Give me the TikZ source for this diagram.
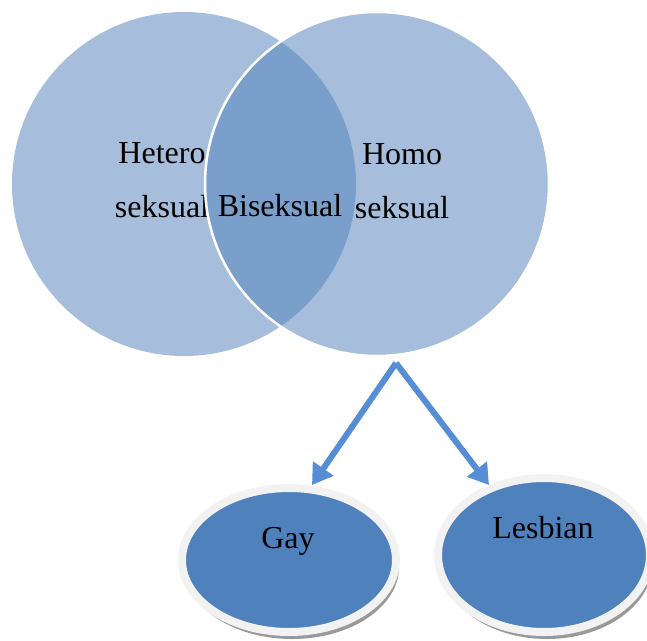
\documentclass[tikz,border=0pt]{standalone}
\usepackage{fontspec}
\setmainfont{Liberation Serif}
\usetikzlibrary{shapes.geometric,shadows,arrows.meta}
\definecolor{setlight}{HTML}{A6BDDB}
\definecolor{setdark}{HTML}{7B9FCB}
\definecolor{arrowblue}{HTML}{558ED5}
\definecolor{groupblue}{HTML}{4F81BD}
\definecolor{rimgray}{HTML}{F2F2F2}

\begin{document}
\begin{tikzpicture}[x=1pt, y=-1pt,
    setcircle/.style={circle, fill=setlight, minimum size=344pt, inner sep=0pt},
    txt/.style={font=\fontsize{32}{54}\selectfont, align=center, text=black, inner sep=0pt},
    group/.style={ellipse, fill=groupblue, draw=rimgray, line width=8pt, inner sep=0pt,
        drop shadow={shadow xshift=3pt, shadow yshift=-7pt, fill=black!40, opacity=1}},
    link/.style={draw=arrowblue, line width=6pt, -{Triangle[length=20pt, width=24pt]}}]
    \useasboundingbox (0,0) rectangle (647,640);

    % venn circles
    \node[setcircle] (hetero) at (184,184) {};
    \node[txt] (heterotext) at (162,180) {Hetero\\seksual};
    \node[setcircle] (homo) at (377,184) {};
    \begin{scope}
        \clip (hetero.center) circle (172pt);
        \fill[setdark] (homo.center) circle (172pt);
    \end{scope}
    \draw[white, line width=2.5pt] (homo.center) circle (172pt);
    \node[txt, anchor=base] (bitext) at (280,216) {Biseksual};
    \node[txt] (homotext) at (402,181) {Homo\\seksual};

    % groups
    \node[group, minimum width=214pt, minimum height=144pt] (gay) at (289,560) {};
    \node[txt, anchor=base] (gaytext) at (288,548) {Gay};
    \node[group, minimum width=212pt, minimum height=154pt] (lesbian) at (544,555) {};
    \node[txt, anchor=base] (lesbiantext) at (543,538) {Lesbian};

    \coordinate (apex) at (396,363);
    \coordinate (gaytip) at (312,485);
    \coordinate (lesbiantip) at (489,485);
    \draw[link] (apex) -- (gaytip);
    \draw[link] (apex) -- (lesbiantip);
\end{tikzpicture}
\end{document}
